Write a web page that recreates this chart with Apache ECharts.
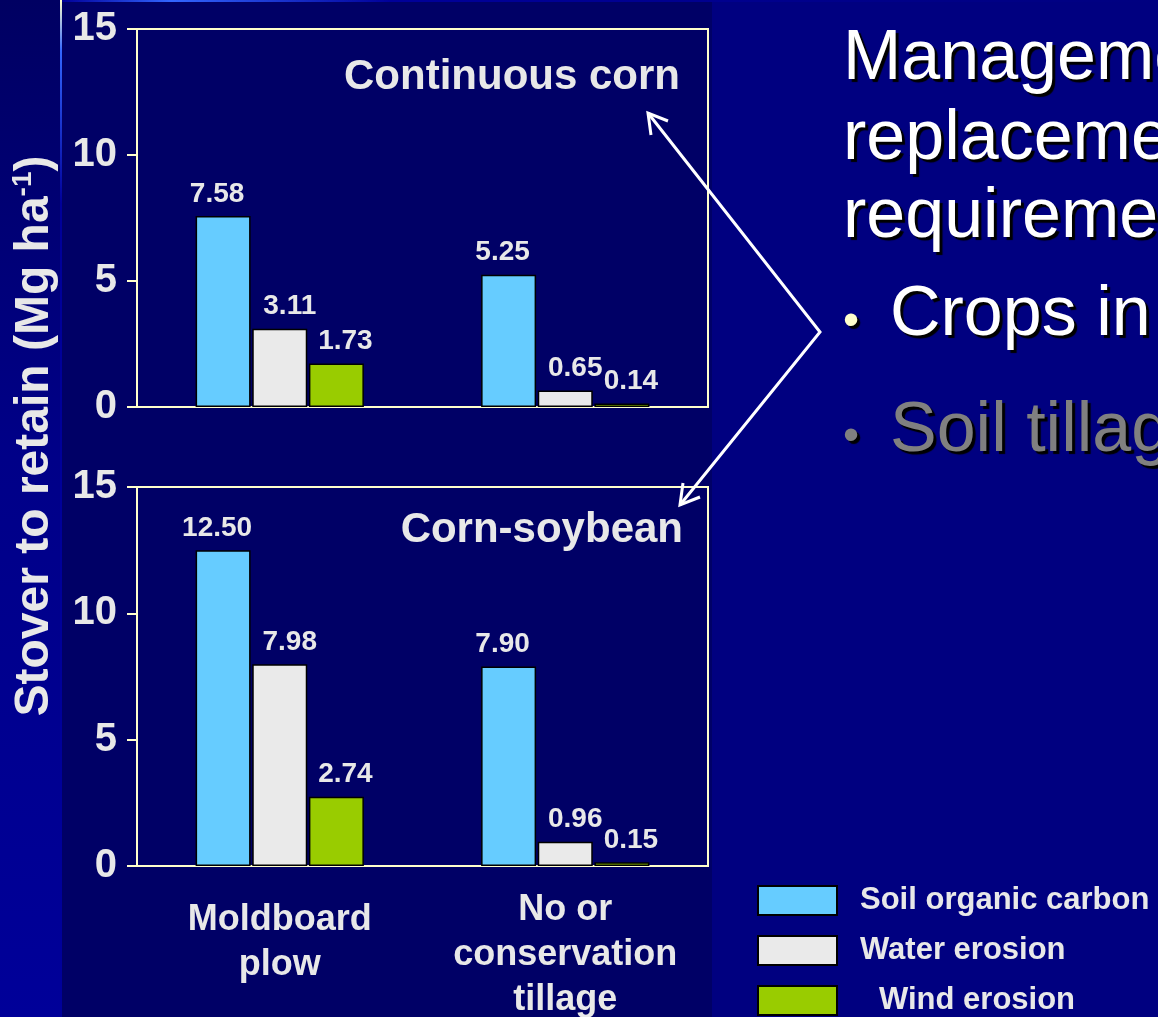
<!DOCTYPE html>
<html>
<head>
<meta charset="utf-8">
<script src="https://cdn.jsdelivr.net/npm/echarts@6/dist/echarts.min.js"></script>
<style>
  html, body { margin: 0; padding: 0; background: #000080; }
  #chart { width: 1158px; height: 1017px; }
</style>
</head>
<body>
<div id="chart"></div>
<script>
// data
const categories = ["Moldboard\nplow", "No or\nconservation\ntillage"];
const seriesNames = ["Soil organic carbon", "Water erosion", "Wind erosion"];
const cornSoc = [7.58, 5.25];
const cornWater = [3.11, 0.65];
const cornWind = [1.73, 0.14];
const soySoc = [12.5, 7.9];
const soyWater = [7.98, 0.96];
const soyWind = [2.74, 0.15];
const yTicks = { min: 0, max: 15, interval: 5 };

const FONT = "'Liberation Sans', Arial, sans-serif";
const LIGHT = "#E8E8E8";
const FRAME = "#FFFFCC";
const colors = ["#66CCFF", "#EAEAEA", "#99CC00"];
const labelShift = [[-6, 0], [10, 0], [9, 0]];

let myChart = echarts.init(document.getElementById("chart"));

function barSeries(name, idx, data, grid) {
  return {
    name: name,
    type: "bar",
    xAxisIndex: grid,
    yAxisIndex: grid,
    data: data,
    barWidth: 55,
    barGap: "3%",
    itemStyle: {
      color: colors[idx],
      borderColor: "#000000",
      borderWidth: 1.5
    },
    label: {
      show: true,
      position: "top",
      distance: 8,
      offset: labelShift[idx],
      color: LIGHT,
      fontFamily: FONT,
      fontWeight: "bold",
      fontSize: 28,
      formatter: p => p.value.toFixed(2)
    },
    emphasis: { disabled: true }
  };
}

function yAxis(grid) {
  return {
    type: "value",
    gridIndex: grid,
    min: yTicks.min,
    max: yTicks.max,
    interval: yTicks.interval,
    axisLine: { show: true, lineStyle: { color: FRAME, width: 2 } },
    axisTick: { show: true, length: 10, lineStyle: { color: FRAME, width: 2 } },
    axisLabel: {
      margin: 20,
      color: LIGHT,
      fontFamily: FONT,
      fontWeight: "bold",
      fontSize: 40
    },
    splitLine: { show: false }
  };
}

function arrow(tip, wing1, wing2) {
  return {
    type: "polyline",
    shape: { points: [wing1, tip, wing2] },
    style: { stroke: "#FFFFFF", lineWidth: 3, fill: null }
  };
}

function slideText(text, x, y, color, size) {
  return {
    type: "text",
    x: x,
    y: y,
    style: {
      text: text,
      fill: color,
      font: size + "px " + FONT,
      verticalAlign: "middle",
      textShadowColor: "#000000",
      textShadowOffsetX: 3,
      textShadowOffsetY: 3,
      textShadowBlur: 1
    }
  };
}

myChart.setOption({
  backgroundColor: "#000080",
  animation: false,
  grid: [
    { left: 137, top: 29, width: 571, height: 378, show: true, borderColor: FRAME, borderWidth: 2, outerBoundsMode: "none", containLabel: false },
    { left: 137, top: 487, width: 571, height: 379, show: true, borderColor: FRAME, borderWidth: 2, outerBoundsMode: "none", containLabel: false }
  ],
  xAxis: [
    {
      type: "category",
      gridIndex: 0,
      data: categories,
      axisLine: { lineStyle: { color: FRAME, width: 2 } },
      axisTick: { show: false },
      axisLabel: { show: false }
    },
    {
      type: "category",
      gridIndex: 1,
      data: [
        { value: categories[0], textStyle: { padding: [10, 0, 0, 0] } },
        categories[1]
      ],
      axisLine: { lineStyle: { color: FRAME, width: 2 } },
      axisTick: { show: false },
      axisLabel: {
        interval: 0,
        hideOverlap: false,
        margin: 22,
        color: LIGHT,
        fontFamily: FONT,
        fontWeight: "bold",
        fontSize: 36,
        lineHeight: 45
      }
    }
  ],
  yAxis: [yAxis(0), yAxis(1)],
  legend: {
    data: seriesNames,
    orient: "vertical",
    left: 757,
    top: 885,
    padding: 0,
    itemWidth: 79,
    itemHeight: 29,
    itemGap: 19,
    icon: "rect",
    selectedMode: false,
    textStyle: {
      color: LIGHT,
      fontFamily: FONT,
      fontWeight: "bold",
      fontSize: 31,
      lineHeight: 29,
      padding: [0, 0, 0, 18],
      rich: {
        w: {
          color: LIGHT,
          fontFamily: FONT,
          fontWeight: "bold",
          fontSize: 31,
          lineHeight: 29,
          padding: [0, 0, 0, 19]
        }
      }
    },
    formatter: name => name === "Wind erosion" ? "{w|" + name + "}" : name
  },
  graphic: [
    // slide backdrop
    {
      type: "rect", z: -10, silent: true,
      shape: { x: 0, y: 0, width: 61, height: 1017 },
      style: {
        fill: new echarts.graphic.LinearGradient(0, 0, 0, 1, [
          { offset: 0, color: "#000062" },
          { offset: 0.45, color: "#000088" },
          { offset: 1, color: "#000099" }
        ])
      }
    },
    {
      type: "rect", z: -10, silent: true,
      shape: { x: 62, y: 0, width: 650, height: 1017 },
      style: { fill: "#000066" }
    },
    {
      type: "rect", z: -9, silent: true,
      shape: { x: 60, y: 0, width: 2, height: 1017 },
      style: {
        fill: new echarts.graphic.LinearGradient(0, 0, 0, 1, [
          { offset: 0, color: "#FFFFCC" },
          { offset: 0.05, color: "#3366FF" },
          { offset: 0.2, color: "#000099" },
          { offset: 1, color: "#000099" }
        ])
      }
    },
    {
      type: "rect", z: -9, silent: true,
      shape: { x: 62, y: 0, width: 1096, height: 2 },
      style: {
        fill: new echarts.graphic.LinearGradient(0, 0, 1, 0, [
          { offset: 0, color: "#000099" },
          { offset: 0.1, color: "#3366FF" },
          { offset: 0.3, color: "#000099" },
          { offset: 1, color: "#000080" }
        ])
      }
    },
    // y axis title shared by both panels
    {
      type: "text",
      x: 35,
      y: 436,
      rotation: Math.PI / 2,
      style: {
        text: "{a|Stover to retain (Mg ha}{s|-1}{a|)}",
        align: "center",
        verticalAlign: "middle",
        rich: {
          a: { fontFamily: FONT, fontWeight: "bold", fontSize: 48, lineHeight: 52, fill: LIGHT },
          s: { fontFamily: FONT, fontWeight: "bold", fontSize: 28, lineHeight: 30, verticalAlign: "top", fill: LIGHT }
        }
      }
    },
    // panel titles
    {
      type: "text", x: 680, y: 77,
      style: { text: "Continuous corn", fill: LIGHT, font: "bold 42px " + FONT, align: "right", verticalAlign: "middle" }
    },
    {
      type: "text", x: 683, y: 530,
      style: { text: "Corn-soybean", fill: LIGHT, font: "bold 42px " + FONT, align: "right", verticalAlign: "middle" }
    },
    // arrows
    {
      type: "polyline",
      shape: { points: [[648, 113], [820, 332], [680, 505]] },
      style: { stroke: "#FFFFFF", lineWidth: 3, fill: null }
    },
    arrow([648, 113], [651, 135], [668, 121]),
    arrow([680, 505], [700, 497], [683, 483]),
    // slide text on the right
    slideText("Management", 843, 60, "#FFFFFF", 70),
    slideText("replacement", 843, 140, "#FFFFFF", 70),
    slideText("requirements", 843, 218, "#FFFFFF", 70),
    slideText("\u2022", 843, 322, "#FFFFCC", 46),
    slideText("Crops in rotation", 890, 316, "#FFFFFF", 70),
    slideText("\u2022", 843, 437, "#808080", 46),
    slideText("Soil tillage", 890, 432, "#808080", 70)
  ],
  series: [
    barSeries(seriesNames[0], 0, cornSoc, 0),
    barSeries(seriesNames[1], 1, cornWater, 0),
    barSeries(seriesNames[2], 2, cornWind, 0),
    barSeries(seriesNames[0], 0, soySoc, 1),
    barSeries(seriesNames[1], 1, soyWater, 1),
    barSeries(seriesNames[2], 2, soyWind, 1)
  ]
});
</script>
</body>
</html>
